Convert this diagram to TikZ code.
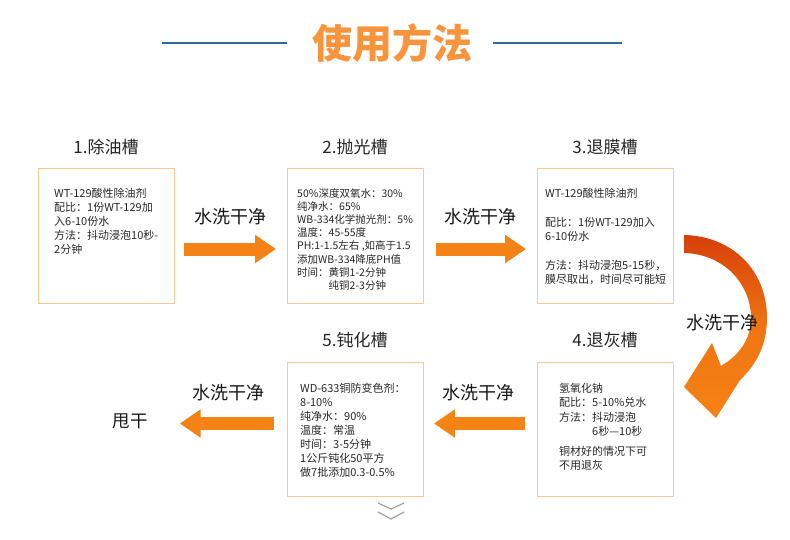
\documentclass[tikz,border=0pt]{standalone}
\usepackage{fontspec}
\setmainfont{Noto Sans CJK SC}
\usetikzlibrary{arrows.meta}
\definecolor{boxline}{RGB}{250,200,150}
\definecolor{flow}{RGB}{245,130,20}
\definecolor{titleor}{RGB}{247,148,60}
\definecolor{lineblue}{RGB}{46,106,155}
\definecolor{txt}{RGB}{40,40,40}
\definecolor{chev}{RGB}{160,160,160}
\definecolor{deep}{RGB}{214,64,10}
\begin{document}
\begin{tikzpicture}[x=1pt,y=-1pt,
  stepbox/.style={draw=boxline,line width=0.9pt,minimum width=136pt,minimum height=135pt,inner sep=0pt},
  heading/.style={font=\fontsize{17}{20}\selectfont,text=black!85,inner sep=0pt},
  body/.style={font=\fontsize{11}{14}\selectfont,text=txt,align=left,anchor=north west,inner sep=0pt},
  washlabel/.style={font=\fontsize{18}{20}\selectfont,text=black!90,inner sep=0pt},
  flowarrow/.style={draw=flow,line width=13pt,-{Triangle[length=21pt,width=27pt]}}
]
\useasboundingbox[fill=white] (0,0) rectangle (790,539);

% title
\node[font=\fontsize{40}{44}\selectfont\bfseries,text=titleor,inner sep=0pt] (title) at (392,43) {使用方法};
\coordinate (tl1) at (162,43); \coordinate (tl2) at (287,43);
\coordinate (tr1) at (493,43); \coordinate (tr2) at (622,43);
\draw[lineblue,line width=2.2pt] (tl1) -- (tl2);
\draw[lineblue,line width=2.2pt] (tr1) -- (tr2);

% boxes
\node[stepbox] (b1) at (106,235.5) {};
\node[stepbox] (b2) at (355.5,235.5) {};
\node[stepbox] (b3) at (605.5,235.5) {};
\node[stepbox,minimum height=134pt] (b4) at (605.5,429) {};
\node[stepbox,minimum height=134pt] (b5) at (355.5,429) {};

% headings
\node[heading] (h1) at (106,147) {1.除油槽};
\node[heading] (h2) at (355,147) {2.抛光槽};
\node[heading] (h3) at (605,147) {3.退膜槽};
\node[heading] (h4) at (605,340) {4.退灰槽};
\node[heading] (h5) at (355,340) {5.钝化槽};

% body texts
\node[body] (t1) at (54,188) {WT-129酸性除油剂\\配比：1份WT-129加\\入6-10份水\\方法：抖动浸泡10秒-\\2分钟};
\node[body,font=\fontsize{10.5}{13.2}\selectfont] (t2) at (297,188) {50\%深度双氧水：30\%\\纯净水：65\%\\WB-334化学抛光剂：5\%\\温度：45-55度\\PH:1-1.5左右 ,如高于1.5\\添加WB-334降底PH值\\时间：黄铜1-2分钟\\\hphantom{时间：}纯铜2-3分钟};
\node[body,font=\fontsize{11}{14.3}\selectfont] (t3) at (545,188) {WT-129酸性除油剂\\[14.3pt]配比：1份WT-129加入\\6-10份水\\[14.3pt]方法：抖动浸泡5-15秒，\\膜尽取出，时间尽可能短};
\node[body,font=\fontsize{11}{14.5}\selectfont] (t4) at (559,383) {氢氧化钠\\配比：5-10\%兑水\\方法：抖动浸泡\\\hphantom{方法：}6秒—10秒\\[5pt]铜材好的情况下可\\不用退灰};
\node[body] (t5) at (300,383) {WD-633铜防变色剂：\\8-10\%\\纯净水：90\%\\温度：常温\\时间：3-5分钟\\1公斤钝化50平方\\做7批添加0.3-0.5\%};

% end node
\node[font=\fontsize{17.5}{20}\selectfont,text=black!90,inner sep=0pt] (dry) at (130,421) {甩干};

% straight arrows
\draw[flowarrow,shorten <=10pt,shorten >=11pt] ([yshift=-13.5pt]b1.east) -- ([yshift=-13.5pt]b2.west);
\draw[flowarrow,shorten <=12pt,shorten >=11pt] ([yshift=-13.5pt]b2.east) -- ([yshift=-13.5pt]b3.west);
\draw[flowarrow,shorten <=12pt,shorten >=10pt] ([yshift=5.5pt]b4.west) -- ([yshift=5.5pt]b5.east);
\draw[flowarrow,shorten <=13pt,shorten >=32pt] ([yshift=5.5pt]b5.west) -- ([yshift=5.5pt]b5.west -| dry.east);

% wash labels
\node[washlabel] (w1) at (230.5,217) {水洗干净};
\node[washlabel] (w2) at (480,217) {水洗干净};
\node[washlabel] (w3) at (228.5,393) {水洗干净};
\node[washlabel] (w4) at (478,393) {水洗干净};

% curved arrow from box 3 to box 4
\shade[top color=deep,bottom color=flow,middle color=flow!80!deep]
  (684,235) .. controls (732,236) and (767,270) .. (767,318)
  .. controls (767,344) and (757,364) .. (740,380)
  -- (716,418) -- (684,387) -- (712,343) -- (721,366)
  .. controls (738,356) and (751,340) .. (751,318)
  .. controls (751,285) and (725,254) .. (684,253) -- cycle;
\node[washlabel] (w5) at (722,323) {水洗干净};

% chevrons
\coordinate (c1a) at (378,503); \coordinate (c1b) at (391,509); \coordinate (c1c) at (404,503);
\coordinate (c2a) at (378,512); \coordinate (c2b) at (391,519); \coordinate (c2c) at (404,512);
\draw[chev,line width=1.2pt] (c1a) -- (c1b) -- (c1c);
\draw[chev,line width=1.2pt] (c2a) -- (c2b) -- (c2c);
\end{tikzpicture}
\end{document}
